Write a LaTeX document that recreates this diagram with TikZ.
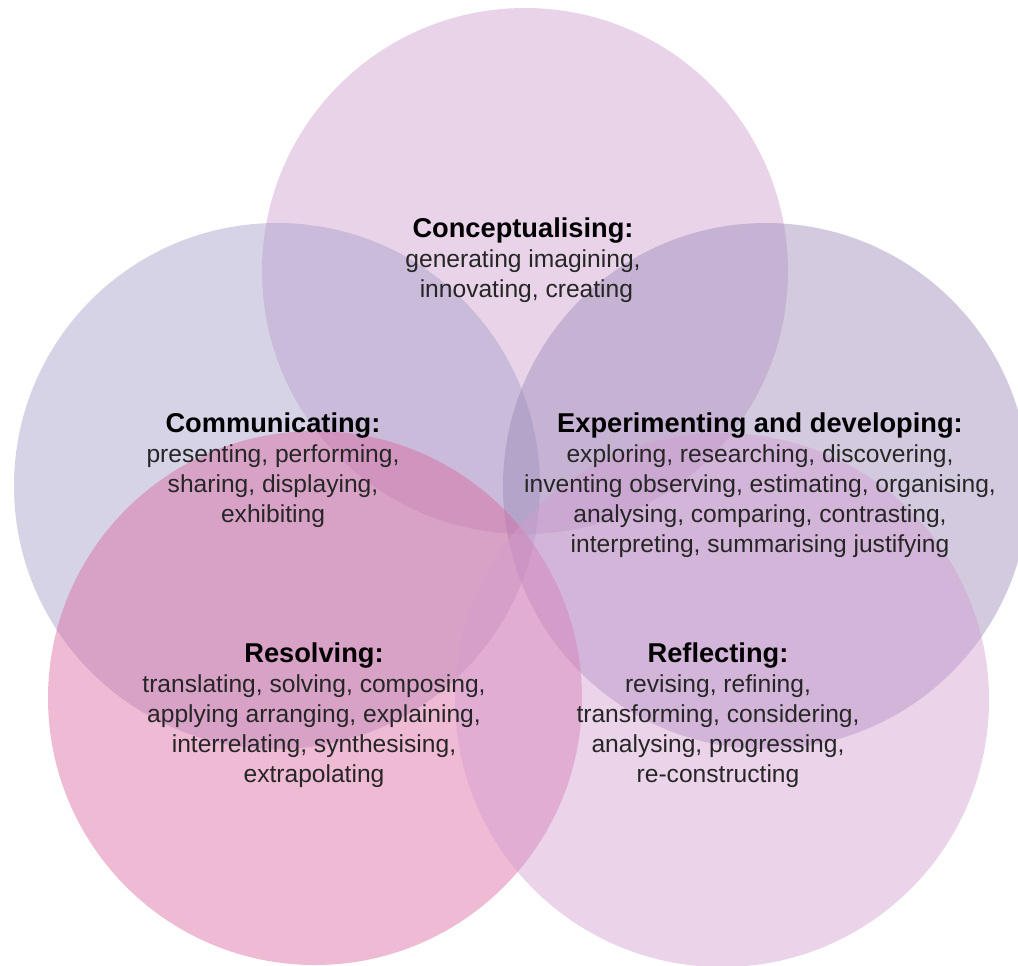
\documentclass[tikz,border=0pt]{standalone}
\usepackage{fontspec}
\setmainfont{Liberation Sans}

\definecolor{conccol}{HTML}{CE9DCE}
\definecolor{commcol}{HTML}{A49DC7}
\definecolor{expecol}{HTML}{9D89B8}
\definecolor{resocol}{HTML}{DB66A0}
\definecolor{reflcol}{HTML}{D39DD0}
\definecolor{inkcol}{HTML}{262626}

\tikzset{
    ring/.style={fill=#1, fill opacity=0.45},
    lbl/.style={align=center, text=inkcol, font=\fontsize{14}{17}\selectfont},
}
\newcommand{\ttl}[1]{{\fontsize{15.5}{17}\selectfont\bfseries\color{black}#1}}

\begin{document}
\begin{tikzpicture}[x=0.02cm,y=-0.02cm]
    \useasboundingbox (0,0) rectangle (1018,965);

    % five circles
    \fill[ring=conccol] (525,271) circle (263);
    \fill[ring=commcol] (277,486) circle (263);
    \fill[ring=expecol] (766,486) circle (263);
    \fill[ring=resocol] (315,698) circle (267);
    \fill[ring=reflcol] (722,700) circle (267);

    % texts
    \node[lbl] (conc) at (523,260) {\ttl{Conceptualising:}\\ generating imagining,\\ \ innovating, creating};
    \node[lbl] (comm) at (273,470) {\ttl{Communicating:}\\ presenting, performing,\\ sharing, displaying,\\ exhibiting};
    \node[lbl] (expe) at (760,485) {\ttl{Experimenting and developing:}\\ exploring, researching, discovering,\\ inventing observing, estimating, organising,\\ analysing, comparing, contrasting,\\ interpreting, summarising justifying};
    \node[lbl] (reso) at (314,715) {\ttl{Resolving:}\\ translating, solving, composing,\\ applying arranging, explaining,\\ interrelating, synthesising,\\ extrapolating};
    \node[lbl] (refl) at (718,715) {\ttl{Reflecting:}\\ revising, refining,\\ transforming, considering,\\ analysing, progressing,\\ re-constructing};

\end{tikzpicture}
\end{document}
